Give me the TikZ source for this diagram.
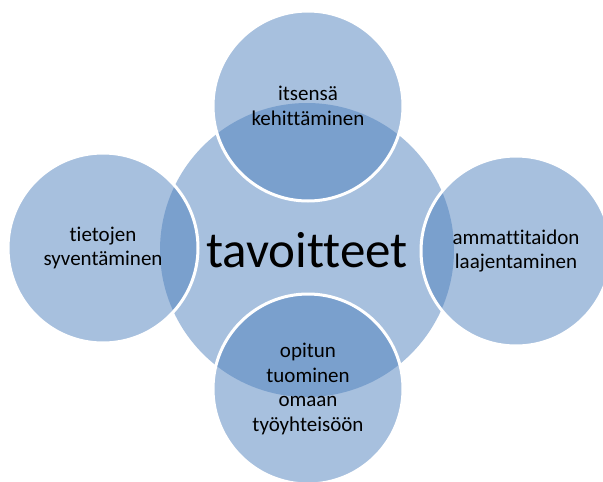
\documentclass[tikz,border=0pt]{standalone}
\usepackage{fontspec}
\setmainfont[Ligatures=NoCommon]{Carlito}
\definecolor{accent}{HTML}{4F81BD}

\begin{document}
\begin{tikzpicture}[
            x=1pt, y=-1pt,
            every node/.style={
              circle,
              fill=accent,
              fill opacity=0.5,
              text opacity=1,
              align=center,
              inner sep=0pt,
            },
            goal/.style={minimum size=294pt, font=\fontsize{51}{60}\selectfont},
            aim/.style={minimum size=190pt, draw=white, line width=3pt,
              font=\fontsize{21}{24.5}\selectfont},
          ]
          \useasboundingbox (0,0) rectangle (603,482);
          \clip (0,0) rectangle (603,482);
          \node[goal] at (307,250) (center) {tavoitteet} ;
          \node[aim] at (308,106) (self) {itsensä\\kehittäminen} ;
          \node[aim] at (516,251) (skill) {ammattitaidon\\laajentaminen} ;
          \node[aim] at (308,389) (work) {opitun\\tuominen\\omaan\\työyhteisöön} ;
          \node[aim] at (103,248) (know) {tietojen\\syventäminen} ;
          \end{tikzpicture}
\end{document}
